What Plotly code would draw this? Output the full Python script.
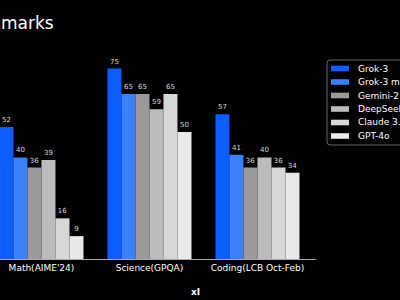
import plotly.graph_objects as go

# Benchmark scores per model
categories = ["Math(AIME'24)", "Science(GPQA)", "Coding(LCB Oct-Feb)"]
models = ["Grok-3", "Grok-3 mini", "Gemini-2 Pro", "DeepSeek-V3", "Claude 3.5 Sonnet", "GPT-4o"]
scores = {
    "Grok-3": [52, 75, 57],
    "Grok-3 mini": [40, 65, 41],
    "Gemini-2 Pro": [36, 65, 36],
    "DeepSeek-V3": [39, 59, 40],
    "Claude 3.5 Sonnet": [16, 65, 36],
    "GPT-4o": [9, 50, 34],
}
colors = ["#0d5cff", "#3a80ff", "#9a9a9a", "#bcbcbc", "#d6d8d6", "#e8eae8"]

W, H = 400, 300
ML, MR, MT, MB = 0, 84, 40, 41
PW, PH = W - ML - MR, H - MT - MB

def px(x):
    return (x - ML) / PW

def py(y):
    return (H - MB - y) / PH

fig = go.Figure()
for name, col in zip(models, colors):
    vals = scores[name]
    fig.add_trace(go.Bar(
        x=categories, y=vals, name=name,
        marker=dict(color=col, line=dict(width=0)),
        text=[str(v) for v in vals], textposition="outside",
        textfont=dict(size=7, color="#d8d8d8", family="DejaVu Sans"),
        cliponaxis=False, showlegend=False,
    ))

shapes = []
annotations = []

# legend frame with rounded corners
x0, x1, y0, y1, r = px(327), px(410), py(60), py(145), 3
rx, ry = r / PW, r / PH
path = (f"M {x0+rx},{y0} L {x1},{y0} L {x1},{y1} L {x0+rx},{y1} "
        f"Q {x0},{y1} {x0},{y1+ry} L {x0},{y0-ry} Q {x0},{y0} {x0+rx},{y0} Z")
shapes.append(dict(type="path", xref="paper", yref="paper", path=path,
                   line=dict(color="#666666", width=1), fillcolor="#000000", layer="above"))

for i, (name, col) in enumerate(zip(models, colors)):
    yc = 68.5 + i * 13.5
    shapes.append(dict(type="rect", xref="paper", yref="paper",
                       x0=px(331), x1=px(349), y0=py(yc - 2.8), y1=py(yc + 2.8),
                       fillcolor=col, line=dict(width=0), layer="above"))
    annotations.append(dict(xref="paper", yref="paper", x=px(356), y=py(yc),
                            xanchor="left", yanchor="middle", text=name, showarrow=False,
                            font=dict(size=9, color="#ffffff", family="DejaVu Sans")))

# title
annotations.append(dict(xref="paper", yref="paper", x=px(55.5), y=py(23.5),
                        xanchor="right", yanchor="middle", text="Benchmarks", showarrow=False,
                        font=dict(size=17, color="#ffffff", family="DejaVu Sans")))
# footer mark
annotations.append(dict(xref="paper", yref="paper", x=px(195), y=py(292),
                        xanchor="center", yanchor="middle", text="<b>xI</b>", showarrow=False,
                        font=dict(size=9, color="#ffffff", family="DejaVu Sans")))

fig.update_layout(
    width=W, height=H,
    margin=dict(l=ML, r=MR, t=MT, b=MB, pad=0),
    paper_bgcolor="#000000", plot_bgcolor="#000000",
    barmode="group", bargap=0.222, bargroupgap=0,
    showlegend=False,
    shapes=shapes, annotations=annotations,
    xaxis=dict(range=[-0.384, 2.542], showgrid=False, zeroline=False,
               showline=True, linecolor="#aaaaaa", linewidth=1,
               ticks="", tickfont=dict(size=9, color="#ffffff", family="DejaVu Sans")),
    yaxis=dict(range=[0, PH / 2.54], visible=False, showgrid=False, zeroline=False),
)

fig.write_html("out.html")
